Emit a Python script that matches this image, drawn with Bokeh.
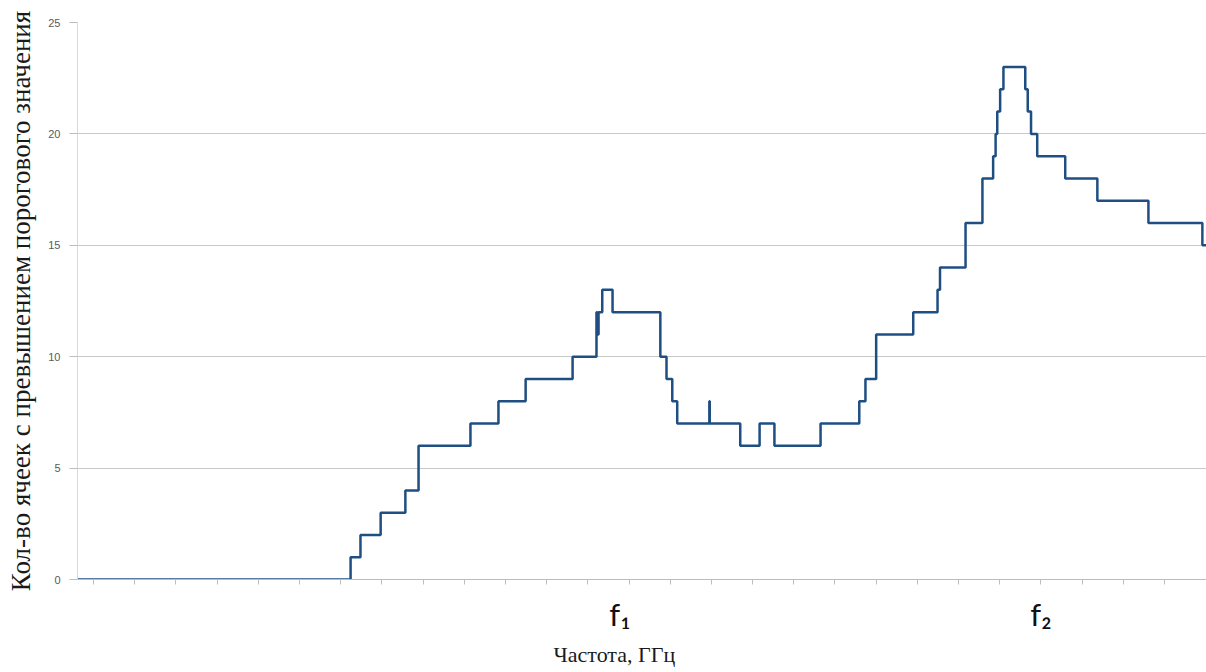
from bokeh.plotting import figure
from bokeh.models import Range1d, FixedTicker, LinearAxis, Title
from bokeh.embed import file_html
from bokeh.resources import INLINE

# Step data: frequency (arbitrary tick units) where the count changes, and the new count
freq = [-0.39, 6.24, 6.48, 6.97, 7.57, 7.89, 9.15, 9.83, 10.49, 11.63,
        12.21, 12.23, 12.26, 12.35, 12.60, 13.76, 13.91, 14.05, 14.17, 14.95,
        14.96, 15.70, 16.17, 16.53, 17.65, 18.59, 18.74, 19.00, 19.90, 20.49,
        20.55, 21.17, 21.58, 21.84, 21.90, 21.94, 22.01, 22.09, 22.62, 22.68,
        22.76, 22.91, 23.59, 24.37, 25.61, 26.92, 27.02]
count = [0, 1, 2, 3, 4, 6, 7, 8, 9, 10,
         12, 11, 12, 13, 12, 10, 9, 8, 7, 8,
         7, 6, 7, 6, 7, 8, 9, 11, 12, 13,
         14, 16, 18, 19, 20, 21, 22, 23, 22, 21,
         20, 19, 18, 17, 16, 15, 15]

y_ticks = [0, 5, 10, 15, 20, 25]
x_ticks = list(range(0, 27))

marker_freq = [12.78, 23.0]
marker_labels = ["f\u2081", "f\u2082"]

y_title = "Кол-во ячеек с превышением порогового значения"
x_title = "Частота, ГГц"

p = figure(width=1206, height=672, output_backend="svg", toolbar_location=None,
           x_range=Range1d(-0.39, 27.02), y_range=Range1d(0, 25),
           min_border_left=77, min_border_right=0, min_border_top=22,
           min_border_bottom=93)
p.outline_line_color = None
p.background_fill_color = "white"
p.border_fill_color = "white"

p.xgrid.grid_line_color = None
p.ygrid.ticker = FixedTicker(ticks=y_ticks)
p.ygrid.grid_line_color = "#c8c8c8"
p.ygrid.grid_line_width = 1

# y axis
p.yaxis.ticker = FixedTicker(ticks=y_ticks)
p.yaxis.axis_line_color = "#d9d9d9"
p.yaxis.major_tick_line_color = "#bdbdbd"
p.yaxis.major_tick_out = 8
p.yaxis.major_tick_in = 0
p.yaxis.minor_tick_line_color = None
p.yaxis.major_label_text_font = "Liberation Sans"
p.yaxis.major_label_text_font_size = "11px"
p.yaxis.major_label_text_color = "#595959"
p.yaxis.major_label_standoff = 9
p.yaxis.axis_label = y_title
p.yaxis.axis_label_text_font = "Liberation Serif"
p.yaxis.axis_label_text_font_style = "normal"
p.yaxis.axis_label_text_font_size = "27px"
p.yaxis.axis_label_text_color = "#1a1a1a"
p.yaxis.axis_label_standoff = 9

# x axis (minor-style ticks, no labels)
p.xaxis.ticker = FixedTicker(ticks=x_ticks)
p.xaxis.axis_line_color = "#bdbdbd"
p.xaxis.major_tick_line_color = "#bdbdbd"
p.xaxis.major_tick_out = 5
p.xaxis.major_tick_in = 0
p.xaxis.minor_tick_line_color = None
p.xaxis.major_label_text_font_size = "1px"
p.xaxis.major_label_text_color = None
p.xaxis.major_label_standoff = 0

# marker axis carrying f1 / f2
f_axis = LinearAxis(ticker=FixedTicker(ticks=marker_freq),
                    major_label_overrides=dict(zip(marker_freq, marker_labels)))
f_axis.axis_line_color = None
f_axis.major_tick_line_color = None
f_axis.minor_tick_line_color = None
f_axis.major_label_text_font = "Lato"
f_axis.major_label_text_font_size = "31px"
f_axis.major_label_text_color = "#111111"
f_axis.major_label_standoff = 4
p.add_layout(f_axis, "below")

p.step(freq, count, mode="after", line_color="#1f4f82", line_width=2.5)

p.add_layout(Title(text=x_title, align="left", offset=476,
                   text_font="Liberation Serif", text_font_size="22px",
                   text_font_style="normal", text_color="#1a1a1a",
                   standoff=9), "below")

open("out.html", "w").write(file_html(p, INLINE))
